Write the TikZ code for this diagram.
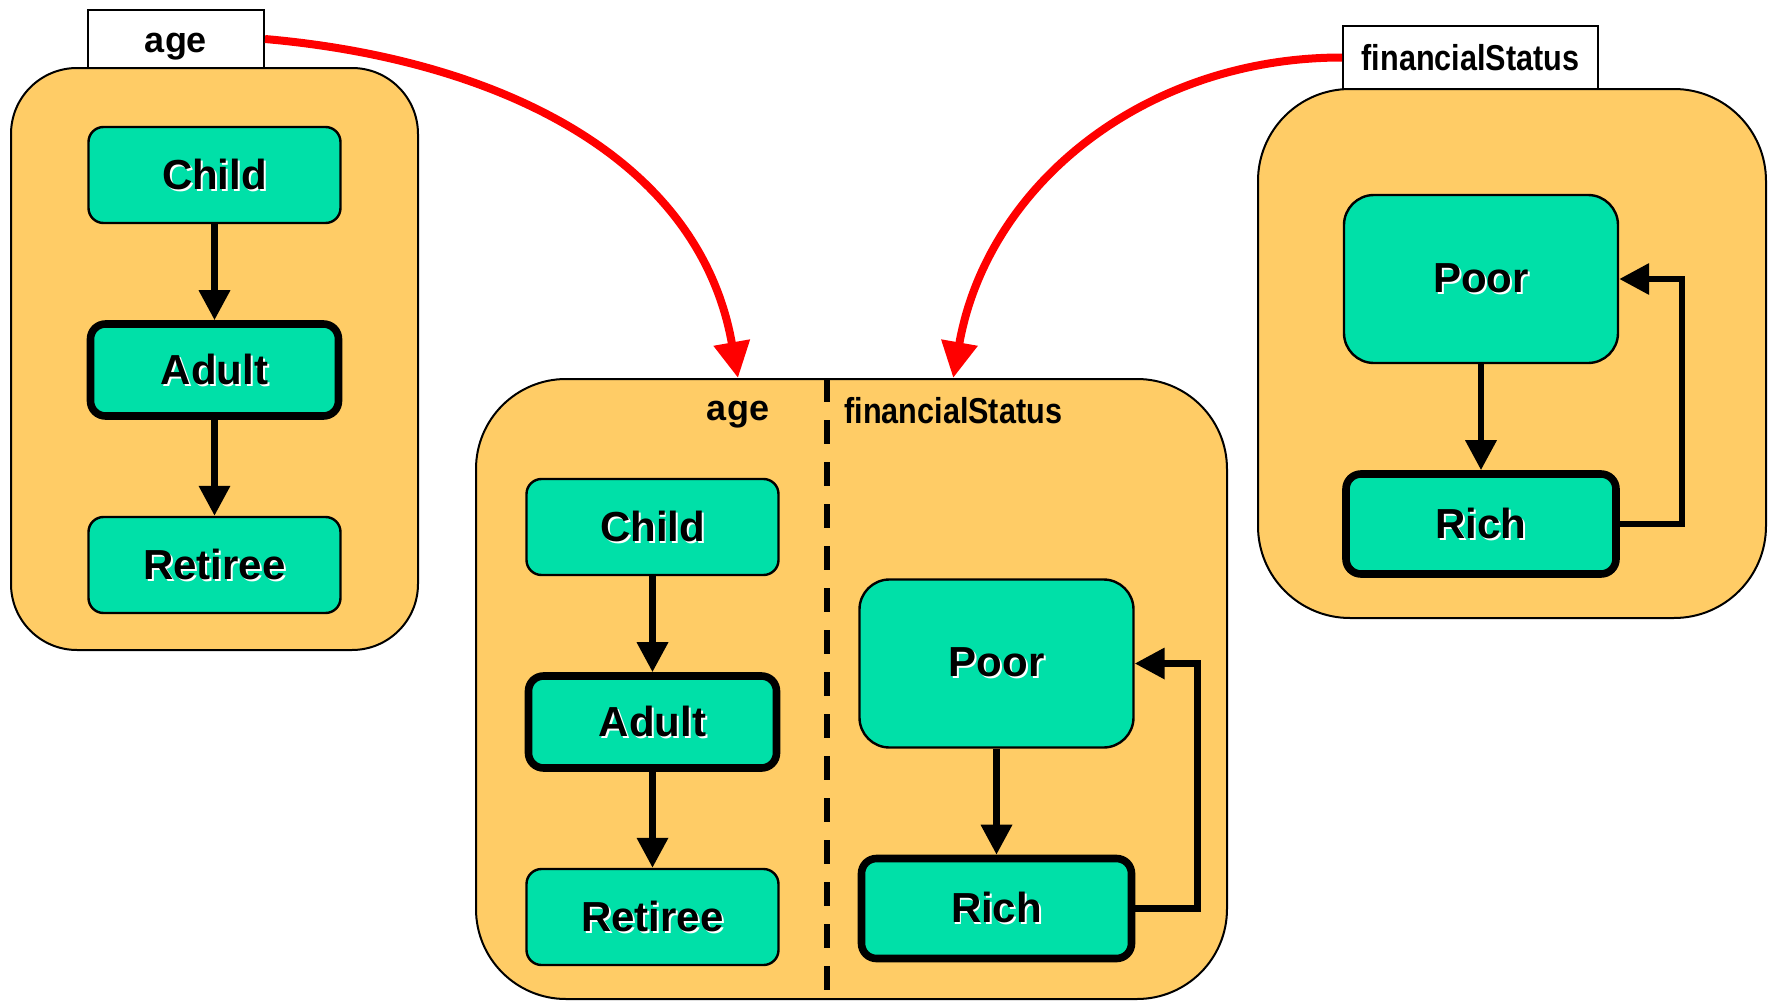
\documentclass[tikz,border=0pt]{standalone}
\usepackage{graphicx}
\usepackage{fontspec}
\setmainfont{Liberation Sans}
\usetikzlibrary{arrows.meta,positioning}
\definecolor{boxorange}{HTML}{FFCC66}
\definecolor{statemint}{HTML}{00E0A8}
\newcommand{\embtext}[1]{\makebox[0pt][l]{\hspace{1pt}\raisebox{-1pt}{\color{white}#1}}#1}
\newcommand{\narrowtext}[1]{\scalebox{0.85}[1]{#1}}

\begin{document}
\begin{tikzpicture}[x=0.5pt,y=-0.5pt,
node distance=48pt,
container/.style={draw,line width=1pt,fill=boxorange},
tabbox/.style={draw,line width=1pt,fill=white,inner sep=0pt,text depth=0pt,
font=\bfseries\fontsize{18}{22}\selectfont},
state/.style={draw,line width=1.2pt,fill=statemint,rounded corners=7.5pt,inner sep=0pt,
font=\bfseries\fontsize{21}{25}\selectfont,minimum width=126pt,minimum height=48pt},
bigstate/.style={state,minimum width=137pt,minimum height=84pt,rounded corners=15pt},
initstate/.style={state,line width=3.8pt,minimum width=124pt,minimum height=46pt},
richstate/.style={initstate,minimum width=135pt,minimum height=50pt},
lbl/.style={inner sep=0pt,font=\bfseries\fontsize{18}{22}\selectfont},
arr/.style={-{Triangle[length=15pt,width=15pt]},line width=3.3pt},
redarr/.style={-{Triangle[length=18pt,width=17.5pt]},line width=4pt,red},
divider/.style={line width=3.3pt,dash pattern=on 12pt off 9pt}
]
\useasboundingbox (0,0) rectangle (1769,1001);

\node[container,rounded corners=33pt,minimum width=203.5pt,minimum height=291pt] (ageBox) at (214.5,359) {};
\node[tabbox,text height=14pt,minimum width=88pt,minimum height=29pt] (ageTab) at (176,39) {age};
\node[state] (aChild) at (214.5,175) {\embtext{Child}};
\node[initstate,below=of aChild] (aAdult) {\embtext{Adult}};
\node[state,below=of aAdult] (aRetiree) {\embtext{Retiree}};

\node[container,rounded corners=45pt,minimum width=375.5pt,minimum height=310pt] (midBox) at (851.5,689) {};
\node[lbl,anchor=base] (mAgeLbl) at (738,420) {age};
\node[lbl,anchor=base west] (mFinLbl) at (844,423) {\narrowtext{financialStatus}};
\node[state] (mChild) at (652.5,527) {\embtext{Child}};
\node[initstate,below=of mChild] (mAdult) {\embtext{Adult}};
\node[state,below=of mAdult] (mRetiree) {\embtext{Retiree}};
\node[bigstate] (mPoor) at (996.5,663.5) {\embtext{Poor}};
\node[richstate,below=53pt of mPoor] (mRich) {\embtext{Rich}};

\node[container,rounded corners=46pt,minimum width=254pt,minimum height=264.5pt] (finBox) at (1512,353.5) {};
\node[tabbox,minimum width=127.5pt,minimum height=31.5pt] (finTab) at (1470.5,57.5) {\narrowtext{financialStatus}};
\node[bigstate] (fPoor) at (1481,279) {\embtext{Poor}};
\node[richstate,below=53pt of fPoor] (fRich) {\embtext{Rich}};

\draw[divider] (827,0 |- midBox.north) -- (827,0 |- midBox.south);

\draw[arr] (aChild) -- (aAdult);
\draw[arr] (aAdult) -- (aRetiree);
\draw[arr] (mChild) -- (mAdult);
\draw[arr] (mAdult) -- (mRetiree);
\draw[arr] (mPoor) -- (mRich);
\draw[arr] (mRich.east) -- ++(31pt,0) |- (mPoor.east);
\draw[arr] (fPoor) -- (fRich);
\draw[arr] (fRich.east) -- ++(31pt,0) |- (fPoor.east);

\draw[redarr] (ageTab.east) to[out=-5,in=100] (mAgeLbl |- midBox.north);
\draw[redarr] (finTab.west) to[out=180,in=80] (mFinLbl |- midBox.north);
\end{tikzpicture}
\end{document}
